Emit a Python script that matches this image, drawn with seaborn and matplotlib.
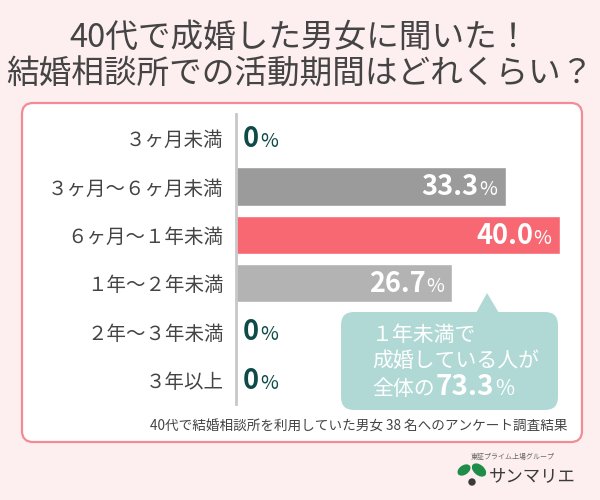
import matplotlib
matplotlib.use("Agg")
import matplotlib.pyplot as plt
import seaborn as sns
import pandas as pd
from matplotlib.patches import FancyBboxPatch, Polygon, Ellipse, Circle

sns.set_theme(style="white")
plt.rcParams['font.family'] = ['Noto Sans CJK JP', 'DejaVu Sans']

# ---- data ----
categories = ["３ヶ月未満", "３ヶ月〜６ヶ月未満", "６ヶ月〜１年未満",
              "１年〜２年未満", "２年〜３年未満", "３年以上"]
values = [0.0, 33.3, 40.0, 26.7, 0.0, 0.0]
bar_colors = ["#9b9b9b", "#9b9b9b", "#f86872", "#b3b3b3", "#b3b3b3", "#b3b3b3"]
title_lines = ["40代で成婚した男女に聞いた！", "結婚相談所での活動期間はどれくらい？"]
callout_lines = ["１年未満で", "成婚している人が", "全体の"]
callout_value = "73.3"
footnote = "40代で結婚相談所を利用していた男女 38 名へのアンケート調査結果"
logo_small = "東証プライム上場グループ"
logo_name = "サンマリエ"

BG = "#fdeeef"
TXT = "#444444"
TEAL_DARK = "#0e4a47"

df = pd.DataFrame({"cat": categories, "val": values})

fig = plt.figure(figsize=(6, 5), dpi=100, facecolor=BG)

# background overlay (pixel coords)
bg = fig.add_axes([0, 0, 1, 1], zorder=0)
bg.set_xlim(0, 600); bg.set_ylim(500, 0); bg.axis("off")
bg.add_patch(FancyBboxPatch((22, 103), 560, 339,
                            boxstyle="round,pad=0,rounding_size=11",
                            facecolor="white", edgecolor="#f48b94", lw=1.6))
for k, line in enumerate(title_lines):
    bg.text(300, 38 + k * 37, line, ha="center", va="center",
            fontsize=23.5, color=TXT)
bg.text(568, 427, footnote, ha="right", va="center", fontsize=9.8, color=TXT)

# logo
bg.text(513, 457, logo_small, ha="center", va="center", fontsize=5.0, color="#666666")
bg.add_patch(Ellipse((464, 470), 13, 8, angle=-35, color="#1f8c48"))
bg.add_patch(Ellipse((479, 470), 15, 9, angle=40, color="#1f8c48"))
bg.add_patch(Circle((472, 482), 3.0, color="#3a3a3a"))
bg.text(489, 476, logo_name, ha="left", va="center", fontsize=12.5, color="#3a3a3a")

# chart axes
ax = fig.add_axes([236 / 600, 1 - 404 / 500, 340 / 600, 290 / 500], zorder=1)
ax.set_facecolor("none")
sns.barplot(data=df, x="val", y="cat", hue="cat", palette=bar_colors,
            legend=False, orient="h", width=0.79, saturation=1, ax=ax)
ax.set_xlim(0, 42)
ax.set_ylim(5.5, -0.5)
ax.set_xlabel(""); ax.set_ylabel("")
ax.set_xticks([])
for s in ["top", "right", "bottom"]:
    ax.spines[s].set_visible(False)
ax.spines["left"].set_color("#c8c8c8")
ax.spines["left"].set_linewidth(2)
ax.tick_params(axis="y", length=0, pad=9, labelsize=14, labelcolor=TXT)

for i, v in enumerate(values):
    yb = i + 0.18
    if v > 0:
        pct = ax.annotate("%", xy=(v, yb), xytext=(-6, 0), textcoords="offset points",
                          ha="right", va="baseline", fontsize=14, color="white")
        ax.annotate(f"{v:.1f}", xy=(0, yb), xycoords=(pct, "data"),
                    xytext=(-0.5, 0), textcoords="offset points",
                    ha="right", va="baseline", fontsize=19.5, fontweight="bold",
                    color="white")
    else:
        z = ax.annotate(f"{v:.0f}", xy=(0, yb), xytext=(5, 0), textcoords="offset points",
                        ha="left", va="baseline", fontsize=19.5, fontweight="bold",
                        color=TEAL_DARK)
        ax.annotate("%", xy=(1, yb), xycoords=(z, "data"),
                    xytext=(0.5, 0), textcoords="offset points",
                    ha="left", va="baseline", fontsize=14, color=TEAL_DARK)

# foreground overlay: callout
fg = fig.add_axes([0, 0, 1, 1], zorder=2)
fg.set_facecolor("none")
fg.set_xlim(0, 600); fg.set_ylim(500, 0); fg.axis("off")
CAL = "#b0d9d6"
fg.add_patch(FancyBboxPatch((341, 312), 217, 98,
                            boxstyle="round,pad=0,rounding_size=13",
                            facecolor=CAL, edgecolor="none"))
fg.add_patch(Polygon([(476, 313), (487, 293), (499, 313)], closed=True,
                     facecolor=CAL, edgecolor="none"))
fg.text(372, 335, callout_lines[0], ha="left", va="center", fontsize=15, color="white")
fg.text(372, 361, callout_lines[1], ha="left", va="center", fontsize=15, color="white")
t3 = fg.text(372, 395, callout_lines[2], ha="left", va="baseline", fontsize=15, color="white")
t4 = fg.annotate(callout_value, xy=(1, 395), xycoords=(t3, "data"),
                 xytext=(1, 0), textcoords="offset points",
                 ha="left", va="baseline", fontsize=20, fontweight="bold", color="white")
fg.annotate("%", xy=(1, 395), xycoords=(t4, "data"),
            xytext=(0.5, 0), textcoords="offset points",
            ha="left", va="baseline", fontsize=15, color="white")

fig.savefig("out.png", dpi=100, facecolor=BG)
